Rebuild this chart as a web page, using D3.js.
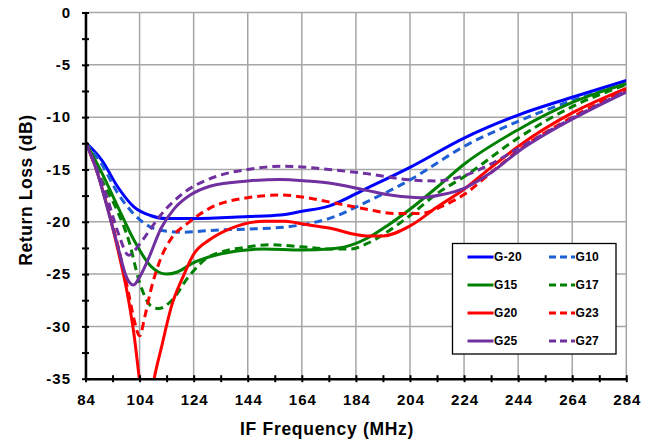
<!DOCTYPE html>
<html>
<head>
<meta charset="utf-8">
<script src="https://cdn.jsdelivr.net/npm/d3@7"></script>
<style>
  body { margin: 0; background: #fff; }
  text { font-family: "Liberation Sans", Arial, sans-serif; font-weight: bold; }
</style>
</head>
<body>
<div id="viz-container"></div>
<script>
// tick values
let xTicks = [84, 104, 124, 144, 164, 184, 204, 224, 244, 264, 284];
let yTicks = [0, -5, -10, -15, -20, -25, -30, -35];

// series: [IF frequency (MHz), return loss (dB)]
let g_20 = [[84,-12.4],[90,-14.1],[96,-16.7],[102,-18.6],[108,-19.4],[114,-19.7],[124,-19.7],[144,-19.5],[156,-19.35],[164,-19.0],[174,-18.5],[188,-16.8],[204,-14.8],[224,-12.0],[244,-9.8],[264,-8.1],[284,-6.5]];
let g10 = [[84,-12.4],[90,-14.5],[96,-17.3],[102,-19.3],[108,-20.5],[114,-20.9],[120,-21.0],[132,-20.8],[144,-20.7],[158,-20.5],[166,-20.2],[174,-19.7],[188,-18.1],[204,-16.0],[224,-12.8],[244,-10.4],[264,-8.4],[284,-6.8]];
let g15 = [[84,-12.4],[90,-15.3],[96,-18.6],[102,-21.8],[108,-24.2],[114,-25.0],[118,-24.8],[124,-23.9],[132,-23.2],[140,-22.8],[150,-22.6],[164,-22.7],[174,-22.6],[180,-22.4],[188,-21.6],[196,-20.3],[204,-18.8],[214,-16.7],[224,-14.5],[244,-11.2],[264,-8.6],[284,-6.8]];
let g17 = [[84,-12.4],[90,-16.0],[96,-19.1],[100,-21.8],[104,-25.8],[108,-28.0],[111,-28.3],[116,-27.5],[122,-25.3],[130,-23.3],[144,-22.4],[152,-22.2],[164,-22.4],[174,-22.6],[182,-22.6],[188,-22.1],[196,-20.9],[204,-19.4],[214,-17.3],[224,-15.7],[244,-12.0],[264,-9.0],[284,-6.9]];
let g20 = [[84,-12.4],[88,-15.0],[92,-18.5],[96,-22.7],[100,-27.6],[102,-30.9],[104,-35.2],[106.5,-40],[109.4,-35],[112,-32.1],[116,-27.9],[120,-25.3],[124,-23.1],[130,-21.7],[138,-20.6],[150,-19.95],[158,-19.95],[164,-20.2],[174,-20.6],[188,-21.35],[194,-21.35],[204,-20.4],[214,-18.6],[224,-16.9],[234,-14.8],[244,-12.8],[264,-9.6],[284,-7.25]];
let g23 = [[84,-12.4],[88,-15.0],[92,-18.4],[96,-22.3],[100,-26.9],[102,-29.4],[104,-30.9],[106,-29.0],[108,-26.7],[112,-23.4],[116,-21.5],[122,-20.1],[130,-18.7],[144,-17.7],[156,-17.45],[166,-17.7],[174,-18.1],[188,-18.8],[198,-19.2],[208,-19.2],[216,-18.5],[224,-17.4],[234,-15.3],[244,-13.2],[264,-10.0],[284,-7.4]];
let g25 = [[84,-12.4],[88,-15.0],[92,-18.6],[96,-22.4],[99,-25.2],[101.7,-26.05],[104,-25.3],[107,-23.7],[112,-20.6],[117,-18.7],[123,-17.4],[130,-16.6],[144,-16.1],[156,-15.95],[166,-16.1],[174,-16.3],[188,-17.0],[198,-17.5],[208,-17.7],[216,-17.4],[224,-16.8],[234,-15.3],[244,-13.3],[264,-10.2],[284,-7.6]];
let g27 = [[84,-12.4],[88,-14.8],[92,-17.7],[96,-21.0],[100,-23.2],[102,-22.8],[105,-21.8],[108,-20.7],[112,-19.3],[120,-17.3],[132,-15.7],[144,-15.0],[156,-14.7],[166,-14.8],[174,-15.0],[188,-15.4],[204,-16.0],[214,-16.1],[224,-15.6],[233,-14.6],[244,-13.0],[264,-10.1],[284,-7.5]];

let seriesNames = ["G-20", "G10", "G15", "G17", "G20", "G23", "G25", "G27"];
let seriesData = [g_20, g10, g15, g17, g20, g23, g25, g27];
let seriesColors = ["#0000ff", "#1f5fd6", "#008000", "#008000", "#ff0000", "#ff0000", "#7030a0", "#7030a0"];
let seriesDashed = [false, true, false, true, false, true, false, true];

let width = 655, height = 441;
let margin = {top: 12.5, right: 28.7, bottom: 62.3, left: 85.5};
let w = width - margin.left - margin.right;
let h = height - margin.top - margin.bottom;

let viz = d3.select("#viz-container")
  .append("svg")
    .attr("width", width)
    .attr("height", height);

let x = d3.scaleLinear().domain([84, 284]).range([0, w]);
let y = d3.scaleLinear().domain([-35, 0]).range([h, 0]);

let plot = viz.append("g")
  .attr("transform", "translate(" + margin.left + "," + margin.top + ")");

viz.append("defs").append("clipPath")
  .attr("id", "clip")
  .append("rect")
    .attr("width", w)
    .attr("height", h);

// grid
plot.append("g")
  .selectAll("line.vgrid").data(xTicks)
  .enter().append("line")
    .attr("x1", d => x(d)).attr("x2", d => x(d))
    .attr("y1", 0).attr("y2", h)
    .attr("stroke", "#a6a6a6").attr("stroke-width", 1.5);
plot.append("g")
  .selectAll("line.hgrid").data(yTicks)
  .enter().append("line")
    .attr("x1", 0).attr("x2", w)
    .attr("y1", d => y(d)).attr("y2", d => y(d))
    .attr("stroke", "#a6a6a6").attr("stroke-width", 1.5);

// lines
let line = d3.line()
  .x(d => x(d[0]))
  .y(d => y(d[1]))
  .curve(d3.curveMonotoneX);

plot.append("g")
  .attr("clip-path", "url(#clip)")
  .selectAll("path").data(seriesData)
  .enter().append("path")
    .attr("d", line)
    .attr("fill", "none")
    .attr("stroke", (d, i) => seriesColors[i])
    .attr("stroke-width", 3)
    .attr("stroke-dasharray", (d, i) => seriesDashed[i] ? "8,5" : null);

// axes (minor ticks get no label)
let minorX = d3.range(84, 285, 10);
let minorY = d3.range(0, -35.1, -2.5);

let xAxis = d3.axisBottom(x).tickValues(minorX).tickSizeInner(3.5).tickSizeOuter(0)
  .tickFormat(d => xTicks.includes(d) ? d : "");
let gx = plot.append("g")
  .attr("transform", "translate(0," + h + ")")
  .call(xAxis);
gx.select(".domain").attr("stroke", "#000").attr("stroke-width", 2.5);
gx.selectAll(".tick line").attr("stroke", "#000").attr("stroke-width", 2).attr("y1", -3.5);
gx.selectAll(".tick text")
  .attr("font-size", 15).attr("letter-spacing", 1).attr("fill", "#000")
  .attr("y", 26.3).attr("dy", 0).attr("dx", 0.5);

let yAxis = d3.axisLeft(y).tickValues(minorY).tickSizeInner(3.5).tickSizeOuter(0)
  .tickFormat(d => yTicks.includes(d) ? d : "");
let gy = plot.append("g").call(yAxis);
gy.select(".domain").attr("stroke", "#000").attr("stroke-width", 2.5);
gy.selectAll(".tick line").attr("stroke", "#000").attr("stroke-width", 2).attr("x1", 3.5);
gy.selectAll(".tick text")
  .attr("font-size", 15).attr("letter-spacing", 1).attr("fill", "#000")
  .attr("x", -14.5);

// axis titles
viz.append("text")
  .attr("x", 327).attr("y", 435)
  .attr("text-anchor", "middle")
  .attr("font-size", 17.5)
  .attr("letter-spacing", 0.7)
  .text("IF Frequency (MHz)");
viz.append("text")
  .attr("transform", "translate(31.5,190) rotate(-90)")
  .attr("text-anchor", "middle")
  .attr("font-size", 17.5)
  .attr("letter-spacing", 0.6)
  .text("Return Loss (dB)");

// legend
let legend = viz.append("g").attr("transform", "translate(452.5,243.5)");
legend.append("rect")
  .attr("width", 163.5).attr("height", 110.5)
  .attr("fill", "#fff").attr("stroke", "#000").attr("stroke-width", 1.3);

let items = legend.selectAll(".item").data(seriesNames)
  .enter().append("g")
    .attr("class", "item")
    .attr("transform", (d, i) => "translate(" + (i % 2 ? 96.5 : 15) + "," + (13.5 + Math.floor(i / 2) * 28) + ")");
items.append("line")
  .attr("x1", 0).attr("x2", 26)
  .attr("stroke", (d, i) => seriesColors[i])
  .attr("stroke-width", 3)
  .attr("stroke-dasharray", (d, i) => seriesDashed[i] ? "7,4" : null);
items.append("text")
  .attr("x", 26.5).attr("dy", "0.36em")
  .attr("font-size", 12)
  .attr("letter-spacing", 0.3)
  .text(d => d);
</script>
</body>
</html>
